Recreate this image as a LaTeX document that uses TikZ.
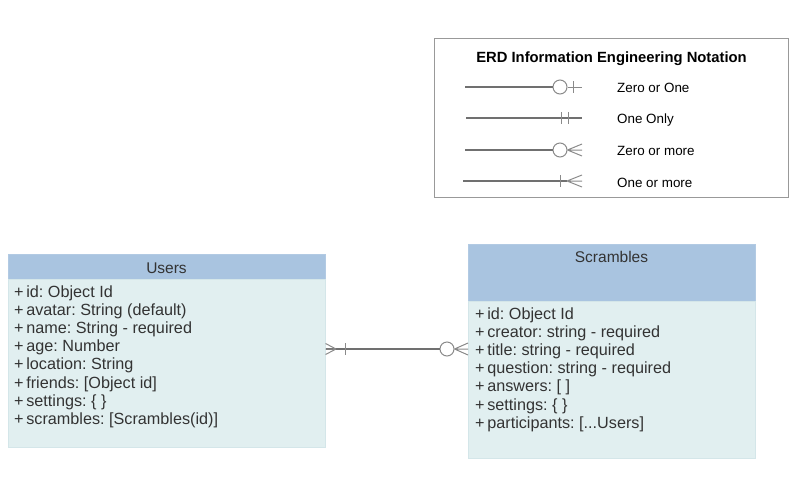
\documentclass[tikz,border=0pt]{standalone}
\usepackage{fontspec}
\setmainfont{Liberation Sans}
\frenchspacing
\newcommand\mytdots{...}
\begin{document}
\begin{tikzpicture}[x=1pt,y=-1pt,
  hdr/.style={fill=hdrblue,draw=hdrblue!90!white,line width=0.6pt,inner sep=0pt,anchor=north west},
  bdy/.style={fill=bodycyan,draw=bodyedge,line width=0.6pt,inner sep=0pt,anchor=north west},
  fld/.style={anchor=base west,inner sep=0pt,text=txt,font=\fontsize{16.2}{18}\selectfont},
  ttl/.style={anchor=base,inner sep=0pt,text=txt,font=\fontsize{15.5}{18}\selectfont},
  lbl/.style={anchor=base west,inner sep=0pt,text=black,font=\fontsize{13.4}{16}\selectfont},
  conn/.style={draw=lgray,line width=1.6pt},
  sym/.style={draw=sgray,line width=1pt},
]
\definecolor{hdrblue}{HTML}{A9C4E0}
\definecolor{bodycyan}{HTML}{E1EFF0}
\definecolor{bodyedge}{HTML}{D4E6E9}
\definecolor{txt}{HTML}{333333}
\definecolor{lgray}{HTML}{707070}
\definecolor{sgray}{HTML}{8A8A8A}
\useasboundingbox (0,0) rectangle (800,480);

% Legend
\node[draw=black!40,line width=1.2pt,minimum width=354,minimum height=159,inner sep=0pt,anchor=north west] (legend) at (434,38) {};
\node[anchor=base,inner sep=0pt,font=\bfseries\fontsize{14.8}{18}\selectfont] (legtitle) at (611.5,62) {ERD Information Engineering Notation};
% row 1 zero or one
\coordinate (r1a) at (465,87); \coordinate (r1b) at (582,87);
\node[circle,sym,minimum size=14,inner sep=0pt] (c1) at (560,87) {};
\draw[conn] (r1a) -- (c1.west);
\draw[sym] (c1.east) -- (r1b);
\draw[sym] (573,81) -- (573,93);
\node[lbl] (l1) at (617,92) {Zero or One};
% row 2 one only
\coordinate (r2a) at (466,118); \coordinate (r2b) at (582,118);
\draw[conn] (r2a) -- (r2b);
\draw[sym] (561,112) -- (561,124);
\draw[sym] (568,112) -- (568,124);
\node[lbl] (l2) at (617,123.5) {One Only};
% row 3 zero or more
\coordinate (r3a) at (465,150); \coordinate (r3b) at (582,150);
\node[circle,sym,minimum size=14,inner sep=0pt] (c3) at (560,150) {};
\draw[conn] (r3a) -- (c3.west);
\draw[sym] (c3.east) -- (582,144) (c3.east) -- (r3b) (c3.east) -- (582,156);
\node[lbl] (l3) at (617,155.5) {Zero or more};
% row 4 one or more
\coordinate (r4a) at (463,181); \coordinate (r4b) at (582,181);
\draw[conn] (r4a) -- (567,181);
\draw[sym] (560,175) -- (560,187);
\draw[sym] (567,181) -- (582,175) (567,181) -- (r4b) (567,181) -- (582,187);
\node[lbl] (l4) at (617,187) {One or more};

% Users
\node[hdr,minimum width=317,minimum height=25] (usersH) at (8,254) {};
\node[bdy,minimum width=317,minimum height=168] (usersB) at (8,279) {};
\node[ttl] (usersT) at (166.5,273) {Users};
\foreach \t [count=\i from 0] in {{id: Object Id},{avatar: String (default)},{name: String - required},{age: Number},{location: String},{friends: [Object id]},{settings: \{ \}},{scrambles: [Scrambles(id)]}}
  \node[fld] (uf\i) at (14,297+18.2*\i) {+\,\t};

% Scrambles
\node[hdr,minimum width=287,minimum height=57] (scrH) at (468,244) {};
\node[bdy,minimum width=287,minimum height=157] (scrB) at (468,301) {};
\node[ttl] (scrT) at (611.5,262) {Scrambles};
\foreach \t [count=\i from 0] in {{id: Object Id},{creator: string - required},{title: string - required},{question: string - required},{answers: [ ]},{settings: \{ \}},{participants: [\mytdots Users]}}
  \node[fld] (sf\i) at (475,319+18.2*\i) {+\,\t};

% Relationship
\coordinate (L) at (usersB.east |- 0,349);
\coordinate (R) at (scrB.west |- 0,349);
\coordinate (Lc) at (336,349);
\node[circle,sym,minimum size=14,inner sep=0pt] (rc) at (447,349) {};
\coordinate (Rc) at (454,349);
\draw[conn] (L) -- (rc.west);
\draw[sym] (L |- 0,343.5) -- (Lc) (L) -- (Lc) (L |- 0,354.5) -- (Lc);
\draw[sym] (345,343) -- (345,355);
\draw[sym] (rc.east) -- (R |- 0,343) (rc.east) -- (R) (rc.east) -- (R |- 0,355);
\end{tikzpicture}
\end{document}
